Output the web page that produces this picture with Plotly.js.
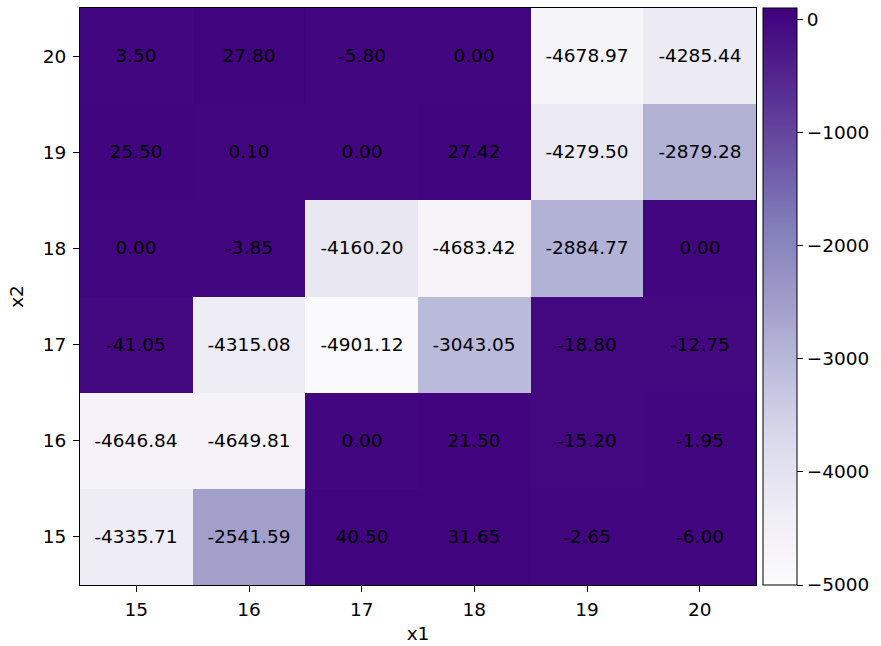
<!DOCTYPE html>
<html>
<head>
<meta charset="utf-8">
<script src="https://cdn.plot.ly/plotly-3.0.1.min.js"></script>
<style>
  html, body { margin: 0; padding: 0; background: #ffffff; }
  #chart { width: 881px; height: 646px; }
</style>
</head>
<body>
<div id="chart"></div>
<script>
// Grid coordinates
const x1Values = [15, 16, 17, 18, 19, 20];
const x2Values = [15, 16, 17, 18, 19, 20];

// One row per x2 value (bottom to top), one column per x1 value
const row15 = [-4335.71, -2541.59, 40.50, 31.65, -2.65, -6.00];
const row16 = [-4646.84, -4649.81, 0.00, 21.50, -15.20, -1.95];
const row17 = [-41.05, -4315.08, -4901.12, -3043.05, -18.80, -12.75];
const row18 = [0.00, -3.85, -4160.20, -4683.42, -2884.77, 0.00];
const row19 = [25.50, 0.10, 0.00, 27.42, -4279.50, -2879.28];
const row20 = [3.50, 27.80, -5.80, 0.00, -4678.97, -4285.44];

const colorTicks = [0, -1000, -2000, -3000, -4000, -5000];

const zGrid = [row15, row16, row17, row18, row19, row20];
const cellText = zGrid.map(r => r.map(v => v.toFixed(2)));

// ColorBrewer "Purples" sequential scale
const purples = [
  [0.000, '#fcfbfd'], [0.125, '#efedf5'], [0.250, '#dadaeb'],
  [0.375, '#bcbddc'], [0.500, '#9e9ac8'], [0.625, '#807dba'],
  [0.750, '#6a51a3'], [0.875, '#54278f'], [1.000, '#3f007d']
];

const FS = 18.5;
const font = { family: 'DejaVu Sans, sans-serif', size: FS, color: '#000000' };

const trace = {
  type: 'heatmap',
  x: x1Values,
  y: x2Values,
  z: zGrid,
  text: cellText,
  texttemplate: '%{text}',
  textfont: { family: 'DejaVu Sans, sans-serif', size: FS, color: '#000000' },
  colorscale: purples,
  zmin: -5000,
  zmax: 100,
  xgap: 0, ygap: 0,
  hoverinfo: 'x+y+z',
  colorbar: {
    x: 1.0104, xanchor: 'left', xref: 'paper',
    y: 0.5, yanchor: 'middle',
    len: 1, lenmode: 'fraction',
    thickness: 34, thicknessmode: 'pixels',
    outlinewidth: 1, outlinecolor: '#000000',
    ticks: 'outside', ticklen: 6, tickwidth: 1, tickcolor: '#000000',
    tickvals: colorTicks,
    tickprefix: '\u2009',
    tickfont: font,
    xpad: 0, ypad: 0
  }
};

const axisCommon = {
  showgrid: false, zeroline: false,
  showline: true, linecolor: '#000000', linewidth: 1, mirror: true,
  ticks: 'outside', ticklen: 6, tickwidth: 1, tickcolor: '#000000',
  tickfont: font,
  tickmode: 'array'
};

const layout = {
  width: 881, height: 646,
  margin: { l: 80, r: 125, t: 8, b: 61 },
  paper_bgcolor: '#ffffff', plot_bgcolor: '#ffffff',
  font: font,
  xaxis: Object.assign({}, axisCommon, {
    tickvals: x1Values,
    range: [14.5, 20.5],
    ticklabelstandoff: 2,
    title: { text: 'x1', font: font, standoff: 7 }
  }),
  yaxis: Object.assign({}, axisCommon, {
    tickvals: x2Values,
    range: [14.5, 20.5],
    ticklabelstandoff: 3,
    title: { text: 'x2', font: font, standoff: 14 }
  })
};

Plotly.newPlot('chart', [trace], layout, { displayModeBar: false, staticPlot: true });
</script>
</body>
</html>
